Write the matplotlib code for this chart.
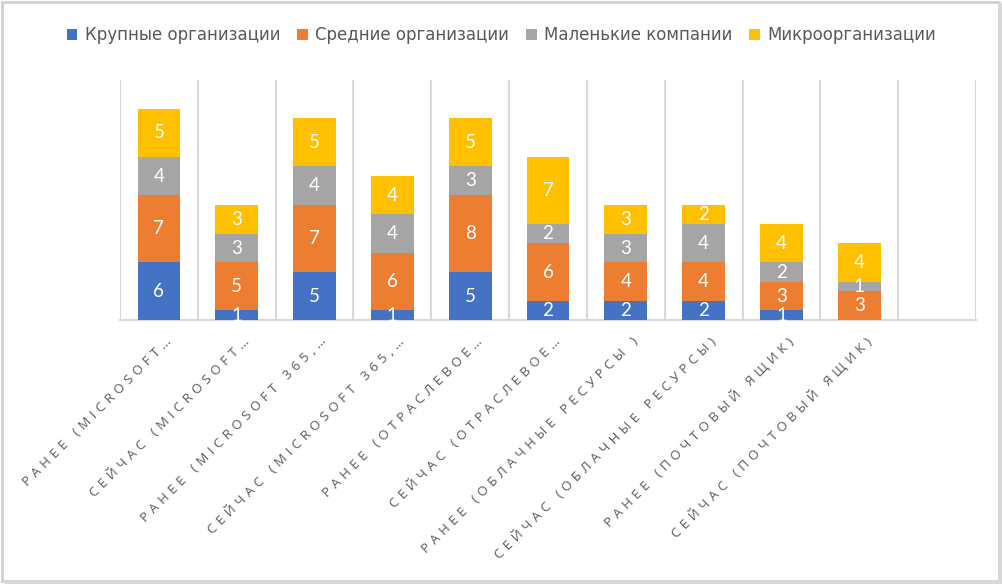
import numpy as np
import matplotlib
matplotlib.use("Agg")
import matplotlib.pyplot as plt
import matplotlib.transforms as mtransforms
from matplotlib.patches import Rectangle

categories = [
    "РАНЕЕ (MICROSOFT…",
    "СЕЙЧАС (MICROSOFT…",
    "РАНЕЕ (MICROSOFT 365,…",
    "СЕЙЧАС (MICROSOFT 365,…",
    "РАНЕЕ (ОТРАСЛЕВОЕ…",
    "СЕЙЧАС (ОТРАСЛЕВОЕ…",
    "РАНЕЕ (ОБЛАЧНЫЕ РЕСУРСЫ )",
    "СЕЙЧАС (ОБЛАЧНЫЕ РЕСУРСЫ)",
    "РАНЕЕ (ПОЧТОВЫЙ ЯЩИК)",
    "СЕЙЧАС (ПОЧТОВЫЙ ЯЩИК)",
    "",
]
large = [6, 1, 5, 1, 5, 2, 2, 2, 1, 0, 0]
medium = [7, 5, 7, 6, 8, 6, 4, 4, 3, 3, 0]
small = [4, 3, 4, 4, 3, 2, 3, 4, 2, 1, 0]
micro = [5, 3, 5, 4, 5, 7, 3, 2, 4, 4, 0]

series = [
    ("Крупные организации", large, "#4472C4"),
    ("Средние организации", medium, "#ED7D31"),
    ("Маленькие компании", small, "#A5A5A5"),
    ("Микроорганизации", micro, "#FFC000"),
]


def spaced(s, sep="\u2009\u2009"):
    # imitate the wide character spacing of the category axis
    return sep.join(s)


W, H = 1003, 585
fig = plt.figure(figsize=(W / 100, H / 100), dpi=100)
ax = fig.add_axes([120 / W, (H - 320) / H, (976 - 120) / W, 240 / H])

x = np.arange(len(categories))
bottom = np.zeros(len(categories))
handles = []
for name, vals, color in series:
    vals = np.array(vals, dtype=float)
    bars = ax.bar(x, vals, 0.55, bottom=bottom, color=color, label=name, zorder=3)
    handles.append(bars)
    for xi, v, b in zip(x, vals, bottom):
        if v > 0:
            ax.text(xi, b + v / 2, f"{int(v)}", ha="center", va="center",
                    color="white", fontsize=13.5, family=["Lato", "DejaVu Sans"], zorder=4)
    bottom += vals

ax.set_xlim(-0.5, len(categories) - 0.5)
ax.set_ylim(0, 25)
ax.set_yticks([])
for s in ["top", "left", "right"]:
    ax.spines[s].set_visible(False)
ax.spines["bottom"].set_color("#d9d9d9")
ax.spines["bottom"].set_linewidth(1.5)
for b in np.arange(len(categories) + 1) - 0.5:
    ax.axvline(b, color="#d9d9d9", lw=1.5, zorder=1)

ax.set_xticks(x)
ax.set_xticklabels([spaced(c) for c in categories], rotation=45, ha="right", va="center",
                   rotation_mode="anchor", fontsize=9.5, color="#595959",
                   family=["Open Sans", "DejaVu Sans"])
ax.tick_params(axis="x", length=0, pad=14)
offset = mtransforms.ScaledTranslation(10 / 100, 0, fig.dpi_scale_trans)
for lbl in ax.get_xticklabels():
    lbl.set_transform(lbl.get_transform() + offset)

fig.legend(handles=handles, loc="center", bbox_to_anchor=(0.5, 1 - 35 / H),
           ncol=4, frameon=False, handlelength=0.65, handleheight=0.65,
           handletextpad=0.45, columnspacing=1.0, labelcolor="#595959",
           prop={"family": ["DejaVu Sans"], "size": 12})

# chart border with soft shadow on right / bottom
fig.patches.append(Rectangle((2 / W, 4 / H), (W - 6) / W, (H - 6) / H,
                             transform=fig.transFigure, fill=False,
                             edgecolor="#d0d0d0", lw=2))
fig.patches.append(Rectangle((4 / W, 1 / H), (W - 5) / W, 3 / H,
                             transform=fig.transFigure, color="#d9d9d9", lw=0))
fig.patches.append(Rectangle(((W - 4) / W, 1 / H), 3 / W, (H - 5) / H,
                             transform=fig.transFigure, color="#d9d9d9", lw=0))

fig.savefig("out.png", dpi=100)
